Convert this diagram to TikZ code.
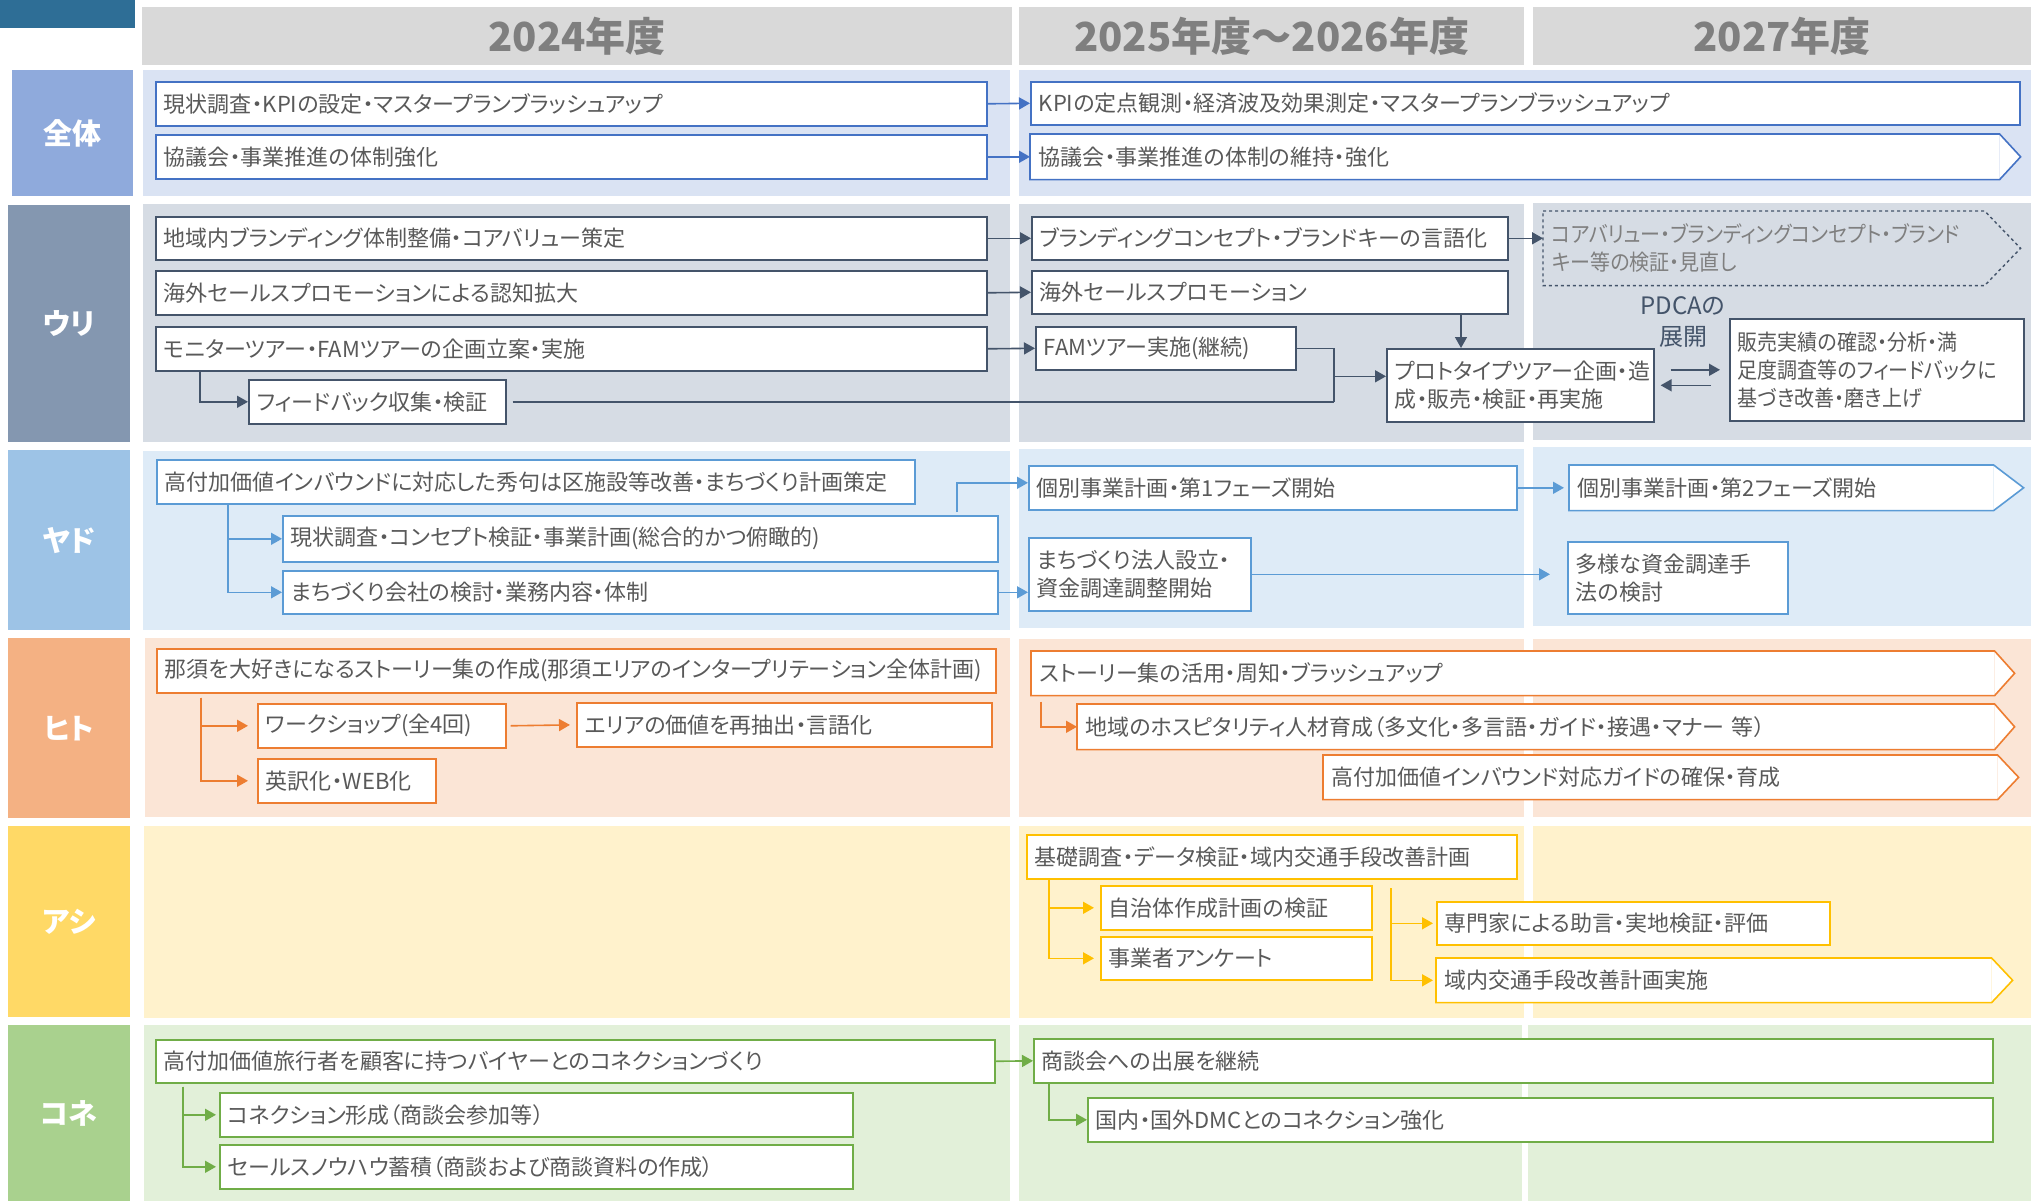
\documentclass[tikz,border=0pt]{standalone}
\usepackage{fontspec}
\setmainfont[RawFeature=+palt]{Noto Sans CJK JP}
\newfontfamily\narrowjp[RawFeature=+palt,FakeStretch=0.91]{Noto Sans CJK JP}
\usetikzlibrary{arrows.meta,calc}
\definecolor{corner}{HTML}{2E6E96}
\definecolor{hdrbg}{HTML}{D9D9D9}
\definecolor{hdrtx}{HTML}{7F7F7F}
\definecolor{txt}{HTML}{595959}
\definecolor{dtx}{HTML}{7F7F7F}
\definecolor{aL}{HTML}{8FAADC}\definecolor{aB}{HTML}{DAE3F3}\definecolor{aC}{HTML}{4472C4}
\definecolor{uL}{HTML}{8497B0}\definecolor{uB}{HTML}{D6DCE4}\definecolor{uC}{HTML}{44546A}
\definecolor{yL}{HTML}{9DC3E6}\definecolor{yB}{HTML}{DEEBF7}\definecolor{yC}{HTML}{5B9BD5}
\definecolor{hL}{HTML}{F4B183}\definecolor{hB}{HTML}{FBE5D6}\definecolor{hC}{HTML}{ED7D31}
\definecolor{sL}{HTML}{FFD966}\definecolor{sB}{HTML}{FFF2CC}\definecolor{sC}{HTML}{FFC000}
\definecolor{kL}{HTML}{A9D18E}\definecolor{kB}{HTML}{E2F0D9}\definecolor{kC}{HTML}{70AD47}
\newcommand\bodyfont{\fontsize{22}{28}\selectfont}
\newcommand\labfont{\fontsize{29}{34}\selectfont\bfseries}
\newcommand\hdrfont{\fontsize{40}{46}\selectfont\bfseries}
% box with left-aligned text
\newcommand{\mybox}[7][]{%
  \pgfmathsetmacro{\bxw}{#5-#3}%
  \pgfmathsetmacro{\bxh}{#6-#4}%
  \pgfmathsetmacro{\bxt}{#5-#3-16}%
  \node[box,#1,anchor=north west,minimum width=\bxw pt,minimum height=\bxh pt,text width=\bxt pt] (#2) at (#3,#4) {#7};}
% centered rectangle node
\newcommand{\rnode}[7][]{%
  \pgfmathsetmacro{\bxw}{#5-#3}%
  \pgfmathsetmacro{\bxh}{#6-#4}%
  \node[#1,anchor=north west,minimum width=\bxw pt,minimum height=\bxh pt] (#2) at (#3,#4) {#7};}
% pentagon outline around a node
\newcommand{\pentout}[3]{%
  \fill[white] (#1.north east) -- ([xshift=#2pt]#1.east) -- (#1.south east) -- cycle;
  \draw[#3,line width=1.6pt,line join=miter] (#1.north west) -- (#1.north east) -- ([xshift=#2pt]#1.east) -- (#1.south east) -- (#1.south west) -- cycle;}
\begin{document}
\begin{tikzpicture}[x=1pt,y=-1pt,
  box/.style={fill=white,draw,line width=1.6pt,inner xsep=8pt,inner ysep=0pt,text=txt,align=left,font=\bodyfont},
  pent/.style={box,draw=none},
  lab/.style={text=white,font=\labfont,inner sep=0pt},
  hdr/.style={fill=hdrbg,text=hdrtx,font=\hdrfont,inner sep=0pt},
  arr/.style={line width=1.6pt,-{Triangle[length=11pt,width=12pt]}},
  ln/.style={line width=1.6pt},
  pdca/.style={text=uC,font=\fontsize{24}{31}\selectfont,align=center,inner sep=0pt}]
\useasboundingbox (0,0) rectangle (2031,1201);
\fill[white] (0,0) rectangle (2031,1201);

% helper coordinates
\coordinate (x183) at (183,0);
\coordinate (x201) at (201,0);
\coordinate (x228) at (228,0);
\coordinate (x957) at (957,0);
\coordinate (x1041) at (1041,0);
\coordinate (x1049) at (1049,0);
\coordinate (x1334) at (1334,0);
\coordinate (x1461) at (1461,0);

% corner and headers
\fill[corner] (0,0) rectangle (135,28);
\rnode[hdr]{H24}{142}{7}{1012}{65}{2024年度}
\rnode[hdr]{H25}{1019}{7}{1524}{65}{2025年度～2026年度}
\rnode[hdr]{H27}{1533}{7}{2031}{65}{2027年度}

% backgrounds
\fill[aB] (143,70) rectangle (1010,196);
\fill[aB] (1019,70) rectangle (2031,196);
\fill[uB] (143,204) rectangle (1010,442);
\fill[uB] (1019,204) rectangle (1524,442);
\fill[uB] (1533,203) rectangle (2031,440);
\fill[yB] (143,451) rectangle (1010,630);
\fill[yB] (1019,449) rectangle (1524,628);
\fill[yB] (1533,447) rectangle (2031,626);
\fill[hB] (145,638) rectangle (1010,817);
\fill[hB] (1019,639) rectangle (1524,817);
\fill[hB] (1533,639) rectangle (2031,817);
\fill[sB] (144,826) rectangle (1010,1018);
\fill[sB] (1019,826) rectangle (1524,1018);
\fill[sB] (1533,826) rectangle (2031,1018);
\fill[kB] (144,1025) rectangle (1010,1201);
\fill[kB] (1019,1025) rectangle (1522,1201);
\fill[kB] (1528,1025) rectangle (2031,1201);

% row labels
\rnode[lab,fill=aL]{LA}{12}{70}{133}{196}{全体}
\rnode[lab,fill=uL]{LU}{8}{205}{130}{442}{ウリ}
\rnode[lab,fill=yL]{LY}{8}{450}{130}{630}{ヤド}
\rnode[lab,fill=hL]{LH}{8}{638}{130}{818}{ヒト}
\rnode[lab,fill=sL]{LS}{8}{826}{130}{1017}{アシ}
\rnode[lab,fill=kL]{LK}{8}{1025}{130}{1201}{コネ}

% ===== 全体 =====
\mybox[draw=aC]{A1}{155}{81}{986}{125}{現状調査・KPIの設定・マスタープランブラッシュアップ}
\mybox[draw=aC]{A2}{155}{134}{986}{178}{協議会・事業推進の体制強化}
\mybox[draw=aC]{A3}{1030}{81}{2019}{124}{KPIの定点観測・経済波及効果測定・マスタープランブラッシュアップ}
\mybox[pent]{A4}{1030}{134}{1998}{178}{協議会・事業推進の体制の維持・強化}
\pentout{A4}{21}{aC}
\draw[arr,aC] (A1.east) -- (A3.west);
\draw[arr,aC] (A2.east) -- (A4.west);

% ===== ウリ =====
\mybox[draw=uC]{U1}{155}{216}{986}{259}{地域内ブランディング体制整備・コアバリュー策定}
\mybox[draw=uC]{U2}{155}{270}{986}{314}{海外セールスプロモーションによる認知拡大}
\mybox[draw=uC]{U3}{155}{326}{986}{370}{モニターツアー・FAMツアーの企画立案・実施}
\mybox[draw=uC]{U8}{248}{379}{505}{423}{フィードバック収集・検証}
\mybox[draw=uC]{U4}{1031}{216}{1507}{259}{ブランディングコンセプト・ブランドキーの言語化}
\mybox[draw=uC]{U5}{1031}{270}{1507}{313}{海外セールスプロモーション}
\mybox[draw=uC]{U6}{1035}{326}{1295}{369}{FAMツアー実施(継続)}
\mybox[draw=uC]{U9}{1386}{348}{1653}{421}{プロトタイプツアー企画・造\\成・販売・検証・再実施}
\mybox[pent,fill=none,text=dtx,font=\bodyfont\narrowjp]{U7}{1543}{211}{1983}{284}{コアバリュー・ブランディングコンセプト・ブランド\\キー等の検証・見直し}
\draw[uC,line width=1.4pt,dashed] (U7.north west) -- (U7.north east) -- ([xshift=36pt]U7.east) -- (U7.south east) -- (U7.south west) -- cycle;
\mybox[draw=uC,font=\bodyfont\narrowjp]{U10}{1729}{318}{2023}{420}{販売実績の確認・分析・満\\足度調査等のフィードバックに\\基づき改善・磨き上げ}
\node[pdca] (P) at (1683,322) {PDCAの\\展開};

\draw[arr,uC] (U1.east) -- (U4.west);
\draw[arr,uC] (U4.east) -- (U4.east -| U7.west);
\draw[arr,uC] (U2.east) -- (U5.west);
\draw[arr,uC] (U3.east) -- (U6.west);
\draw[arr,uC] ([xshift=45pt]U3.south west) |- (U8.west);
\path (U8.east -| x1334) coordinate (jU);
\draw[ln,uC] (U6.east) -| (jU);
\draw[ln,uC] ([xshift=6pt]U8.east) -- (jU);
\draw[arr,uC] ([yshift=9pt]U9.west -| x1334) -- ([yshift=9pt]U9.west);
\draw[arr,uC] (U5.south -| x1461) -- (U9.north -| x1461);
\draw[arr,uC] ([xshift=16pt]U9.east |- U10.west) -- ([xshift=-9pt]U10.west);
\draw[arr,uC] ([xshift=-18pt]U10.west |- U9.east) -- ([xshift=6pt]U9.east);

% ===== ヤド =====
\mybox[draw=yC]{Y1}{156}{459}{914}{503}{高付加価値インバウンドに対応した秀句は区施設等改善・まちづくり計画策定}
\mybox[draw=yC]{Y2}{282}{515}{997}{561}{現状調査・コンセプト検証・事業計画(総合的かつ俯瞰的)}
\mybox[draw=yC]{Y3}{282}{570}{997}{613}{まちづくり会社の検討・業務内容・体制}
\mybox[draw=yC]{Y4}{1028}{465}{1516}{509}{個別事業計画・第1フェーズ開始}
\mybox[pent]{Y5}{1569}{465}{1992}{509}{個別事業計画・第2フェーズ開始}
\pentout{Y5}{30}{yC}
\mybox[draw=yC]{Y6}{1028}{537}{1250}{610}{まちづくり法人設立・\\資金調達調整開始}
\mybox[draw=yC]{Y7}{1567}{541}{1787}{613}{多様な資金調達手\\法の検討}

\draw[arr,yC] (Y1.south -| x228) |- (Y2.west);
\draw[arr,yC] (Y1.south -| x228) |- (Y3.west);
\draw[arr,yC] ([yshift=3pt]Y2.north -| x957) |- ([yshift=5pt]Y4.west);
\draw[arr,yC] (Y3.east) -- (Y3.east -| Y6.west);
\draw[arr,yC,shorten >=5pt] (Y4.east) -- (Y5.west);
\draw[arr,yC,shorten >=17pt] (Y6.east) -- (Y6.east -| Y7.west);

% ===== ヒト =====
\mybox[draw=hC]{H1}{156}{648}{995}{692}{那須を大好きになるストーリー集の作成(那須エリアのインタープリテーション全体計画)}
\mybox[draw=hC]{H2}{257}{703}{505}{747}{ワークショップ(全4回)}
\mybox[draw=hC]{H3}{576}{702}{991}{746}{エリアの価値を再抽出・言語化}
\mybox[draw=hC]{H4}{257}{758}{435}{802}{英訳化・WEB化}
\mybox[pent]{H5}{1031}{651}{1993}{694}{ストーリー集の活用・周知・ブラッシュアップ}
\pentout{H5}{20}{hC}
\mybox[pent]{H6}{1077}{704}{1993}{748}{地域のホスピタリティ人材育成（多文化・多言語・ガイド・接遇・マナー 等）}
\pentout{H6}{20}{hC}
\mybox[pent]{H7}{1323}{755}{1996}{798}{高付加価値インバウンド対応ガイドの確保・育成}
\pentout{H7}{21}{hC}

\draw[arr,hC,shorten >=9pt] ([yshift=-4pt]H1.south -| x201) |- (H2.west);
\draw[arr,hC,shorten >=9pt] ([yshift=-4pt]H1.south -| x201) |- (H4.west);
\draw[arr,hC,shorten >=6pt] ([xshift=4pt]H2.east) -- (H3.west);
\draw[arr,hC] ([yshift=-6pt]H5.south -| x1041) |- (H6.west);

% ===== アシ =====
\mybox[draw=sC]{S1}{1026}{834}{1516}{878}{基礎調査・データ検証・域内交通手段改善計画}
\mybox[draw=sC]{S2}{1100}{885}{1371}{929}{自治体作成計画の検証}
\mybox[draw=sC]{S3}{1100}{936}{1371}{979}{事業者アンケート}
\mybox[draw=sC]{S4}{1436}{901}{1829}{944}{専門家による助言・実地検証・評価}
\mybox[pent]{S5}{1436}{958}{1990}{1001}{域内交通手段改善計画実施}
\pentout{S5}{21}{sC}
\coordinate (sTop) at (1391,888);

\draw[arr,sC,shorten >=6pt] (S1.south -| x1049) |- (S2.west);
\draw[arr,sC,shorten >=6pt] (S1.south -| x1049) |- (S3.west);
\draw[arr,sC,shorten >=3pt] (sTop) |- (S4.west);
\draw[arr,sC,shorten >=3pt] (sTop) |- (S5.west);

% ===== コネ =====
\mybox[draw=kC]{K1}{155}{1039}{994}{1082}{高付加価値旅行者を顧客に持つバイヤーとのコネクションづくり}
\mybox[draw=kC]{K2}{219}{1092}{852}{1136}{コネクション形成（商談会参加等）}
\mybox[draw=kC]{K3}{219}{1144}{852}{1188}{セールスノウハウ蓄積（商談および商談資料の作成）}
\mybox[draw=kC]{K4}{1033}{1038}{1992}{1082}{商談会への出展を継続}
\mybox[draw=kC]{K5}{1087}{1097}{1992}{1141}{国内・国外DMCとのコネクション強化}

\draw[arr,kC,shorten >=3pt] ([yshift=-3pt]K1.south -| x183) |- (K2.west);
\draw[arr,kC,shorten >=3pt] ([yshift=-3pt]K1.south -| x183) |- (K3.west);
\draw[arr,kC] (K1.east) -- (K4.west);
\draw[arr,kC] (K4.south -| x1049) |- (K5.west);
\end{tikzpicture}
\end{document}
